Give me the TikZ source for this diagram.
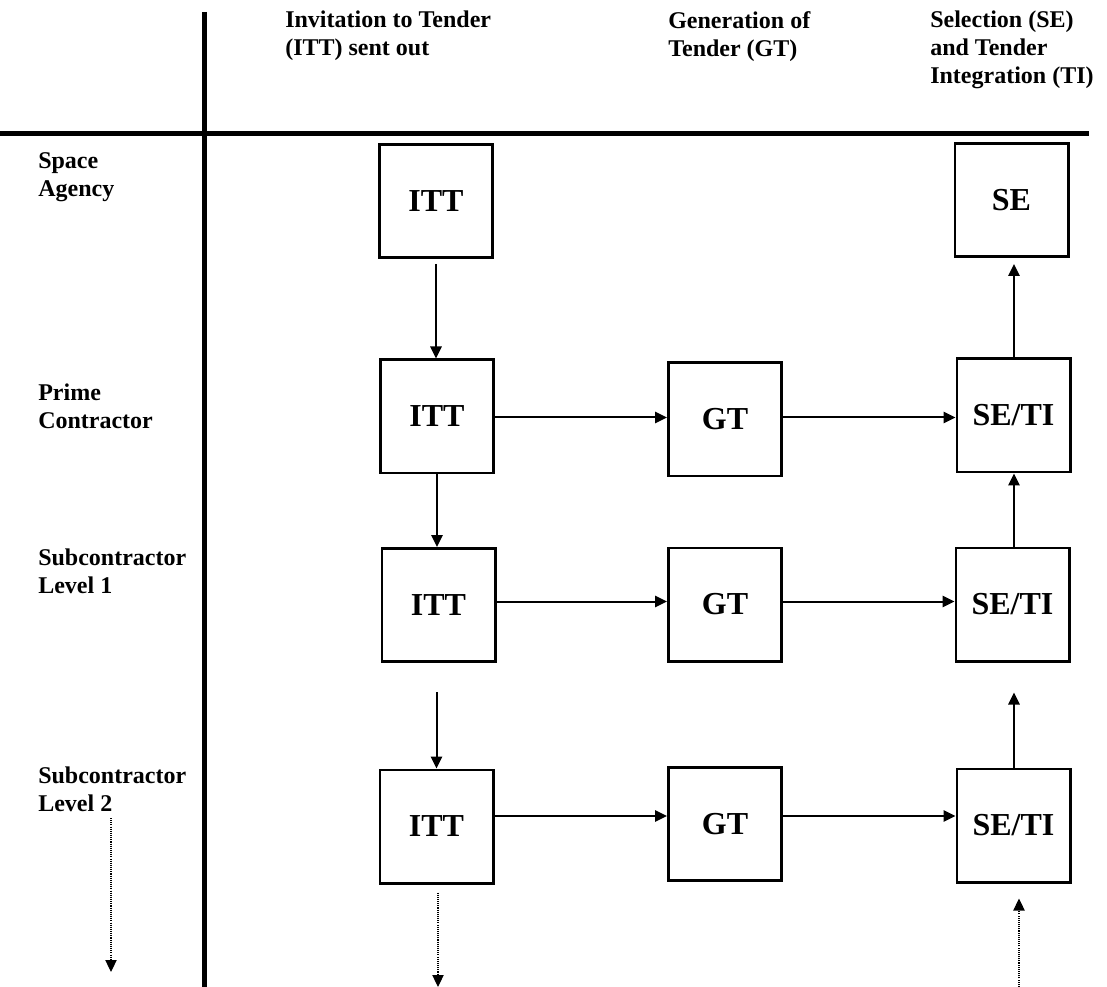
\documentclass[tikz,border=0pt]{standalone}
\usepackage{fontspec}
\setmainfont{Liberation Serif}
\usetikzlibrary{arrows.meta}
\begin{document}
\begin{tikzpicture}[x=0.75pt,y=-0.75pt,
  box/.style={draw,line width=2pt,minimum width=85pt,minimum height=85pt,inner sep=0pt,font=\fontsize{24pt}{28pt}\selectfont\bfseries},
  lbl/.style={anchor=north west,inner sep=0pt,align=left,font=\fontsize{18pt}{21pt}\selectfont\bfseries},
  arr/.style={line width=1.5pt,-{Triangle[length=9pt,width=8.5pt]}},
  dotarr/.style={line width=0.8pt,dash pattern=on 0.8pt off 0.8pt,-{Triangle[length=9pt,width=8.5pt]}},
  rulestyle/.style={line width=3.75pt}]
\useasboundingbox (0,0) rectangle (1107,987);

% frame lines
\coordinate (vtop) at (204,12);
\coordinate (vbot) at (204,987);
\coordinate (hleft) at (0,134);
\coordinate (hright) at (1089,134);
\draw[rulestyle] (vtop) -- (vbot);
\draw[rulestyle] (hleft) -- (hright);

% headers
\node[lbl] (h1) at (285,11) {Invitation to Tender\\(ITT) sent out};
\node[lbl] (h2) at (668,11) {Generation of\\Tender (GT)};
\node[lbl] (h3) at (930,11) {Selection (SE)\\and Tender\\Integration (TI)};

% row labels
\node[lbl] (l1) at (38,152) {Space\\Agency};
\node[lbl] (l2) at (38,384) {Prime\\Contractor};
\node[lbl] (l3) at (38,549) {Subcontractor\\Level 1};
\node[lbl] (l4) at (38,767) {Subcontractor\\Level 2};

% boxes
\node[box] (itt1) at (436,201) {ITT};
\node[box] (se1) at (1011.5,200) {SE};
\node[box] (itt2) at (437,416.5) {ITT};
\node[box] (gt2) at (725,419.5) {GT};
\node[box] (seti2) at (1013.5,415.5) {SE/TI};
\node[box] (itt3) at (438.5,605) {ITT};
\node[box] (gt3) at (725,604.5) {GT};
\node[box] (seti3) at (1012.5,604.5) {SE/TI};
\node[box] (itt4) at (436.5,826.5) {ITT};
\node[box] (gt4) at (725,824) {GT};
\node[box] (seti4) at (1013.5,825.5) {SE/TI};

% row levels for horizontal arrows
\coordinate (r2) at (0,417.5);
\coordinate (r3) at (0,601.5);
\coordinate (r4) at (0,816);

% horizontal arrows
\draw[arr] (itt2.east |- r2) -- (gt2.west |- r2);
\draw[arr] (gt2.east |- r2) -- (seti2.west |- r2);
\draw[arr] (itt3.east |- r3) -- (gt3.west |- r3);
\draw[arr] (gt3.east |- r3) -- (seti3.west |- r3);
\draw[arr] (itt4.east |- r4) -- (gt4.west |- r4);
\draw[arr] (gt4.east |- r4) -- (seti4.west |- r4);

% vertical arrows, ITT column
\draw[arr,shorten <=3.75pt] (itt1.south) -- (itt1.south |- itt2.north);
\draw[arr] (itt2.south) -- (itt2.south |- itt3.north);
\draw[arr,shorten <=21.75pt] (itt3.south -| itt4.north) -- (itt4.north);

% vertical arrows, SE/TI column
\coordinate (cx) at (1014,0);
\draw[arr,shorten >=4.5pt] (seti2.north -| cx) -- (se1.south -| cx);
\draw[arr] (seti3.north -| cx) -- (seti2.south -| cx);
\draw[arr,shorten >=22.5pt] (seti4.north -| cx) -- (seti3.south -| cx);

% dotted continuation arrows
\coordinate (ld1) at (111,818);
\coordinate (ld2) at (111,972);
\draw[dotarr] (ld1) -- (ld2);
\coordinate (id2) at (438,987);
\draw[dotarr,shorten <=6pt] (itt4.south -| id2) -- (id2);
\coordinate (sd1) at (1019,987);
\draw[dotarr,shorten >=11.25pt] (sd1) -- (seti4.south -| sd1);
\end{tikzpicture}
\end{document}
